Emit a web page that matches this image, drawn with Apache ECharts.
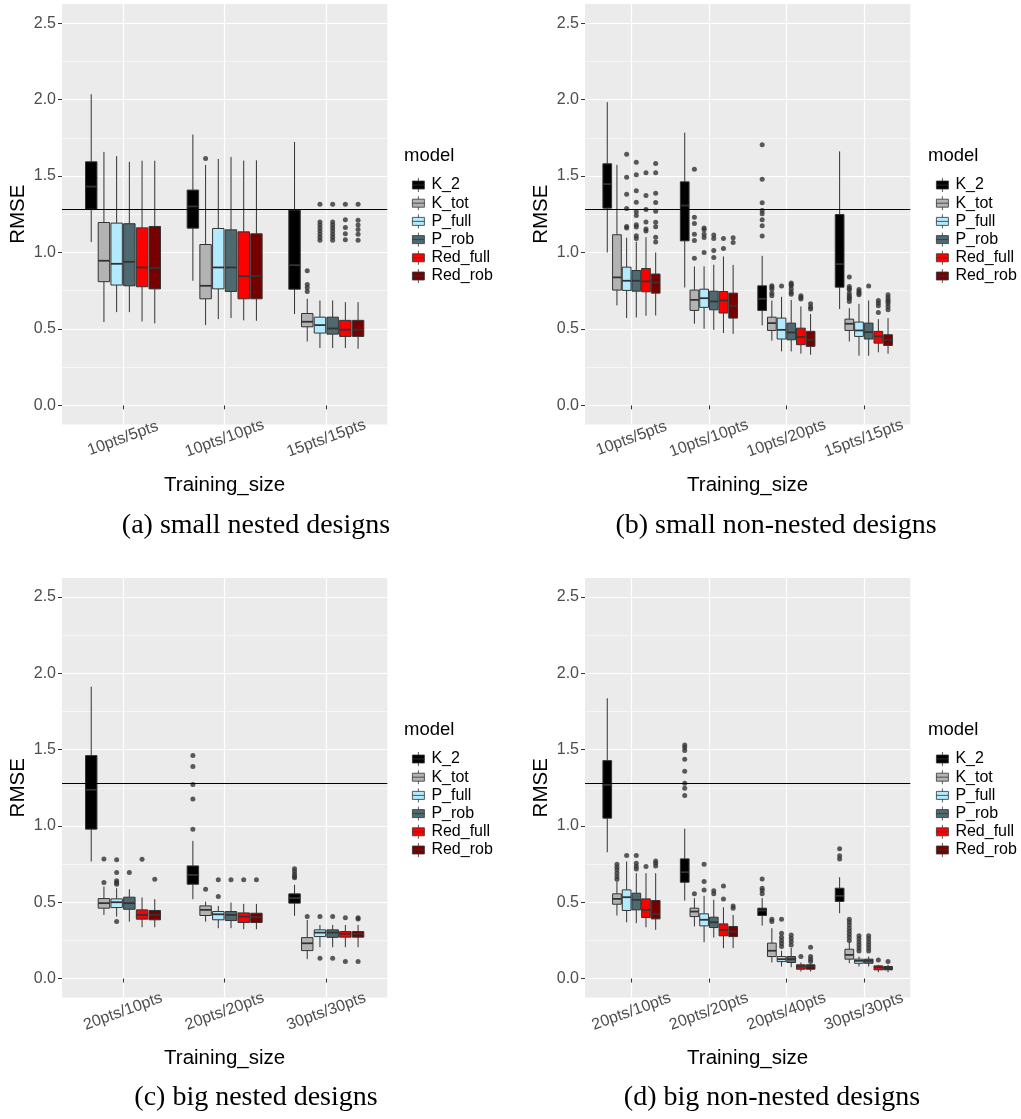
<!DOCTYPE html>
<html><head><meta charset="utf-8">
<script src="https://cdn.jsdelivr.net/npm/echarts@6/dist/echarts.min.js"></script>
<style>html,body{margin:0;padding:0;background:#fff}#c{width:1021px;height:1119px}</style>
</head><body><div id="c"></div>
<script>
// ---------- data ----------
const models = ['K_2', 'K_tot', 'P_full', 'P_rob', 'Red_full', 'Red_rob'];
const modelColors = ['#000000', '#b3b3b3', '#b2ebff', '#4f6970', '#ff0000', '#760000'];
const yTicks = [0, 0.5, 1, 1.5, 2, 2.5];
const yMinorTicks = [0.25, 0.75, 1.25, 1.75, 2.25];
const refLine = 1.285;

// categories
const catsA = ['10pts/5pts', '10pts/10pts', '15pts/15pts'];
const catsB = ['10pts/5pts', '10pts/10pts', '10pts/20pts', '15pts/15pts'];
const catsC = ['20pts/10pts', '20pts/20pts', '30pts/30pts'];
const catsD = ['20pts/10pts', '20pts/20pts', '20pts/40pts', '30pts/30pts'];

// box stats per model (order of models), per category: [lower whisker, Q1, median, Q3, upper whisker]
const boxesA = [
  [[1.068,1.283,1.431,1.593,2.035],[0.815,1.159,1.301,1.408,1.771],[0.597,0.760,0.917,1.277,1.723]],
  [[0.545,0.809,0.946,1.196,1.658],[0.525,0.697,0.782,1.052,1.573],[0.418,0.514,0.547,0.601,0.697]],
  [[0.610,0.787,0.926,1.192,1.630],[0.564,0.762,0.902,1.157,1.612],[0.375,0.473,0.525,0.577,0.686]],
  [[0.610,0.782,0.939,1.188,1.593],[0.571,0.745,0.902,1.148,1.625],[0.375,0.466,0.503,0.577,0.686]],
  [[0.549,0.776,0.902,1.161,1.600],[0.556,0.697,0.845,1.135,1.601],[0.375,0.451,0.495,0.556,0.675]],
  [[0.536,0.762,0.898,1.170,1.600],[0.553,0.697,0.845,1.122,1.603],[0.370,0.451,0.495,0.556,0.675]]
];
const outA = [
  [[],[],[]],
  [[],[1.614],[0.88,0.79,0.77,0.745]],
  [[],[],[1.316,1.20,1.18,1.16,1.14,1.12,1.10,1.08]],
  [[],[],[1.316,1.20,1.18,1.16,1.14,1.12,1.10,1.08]],
  [[],[],[1.316,1.214,1.164,1.123,1.083]],
  [[],[],[1.316,1.21,1.18,1.15,1.12,1.08]]
];

const boxesB = [
  [[1.000,1.290,1.447,1.580,1.983],[0.771,1.076,1.307,1.462,1.784],[0.523,0.621,0.697,0.782,0.978],[0.630,0.773,0.924,1.248,1.661]],
  [[0.654,0.754,0.837,1.116,1.573],[0.534,0.621,0.690,0.754,0.909],[0.423,0.490,0.538,0.577,0.686],[0.418,0.490,0.534,0.564,0.636]],
  [[0.571,0.752,0.815,0.904,1.096],[0.501,0.641,0.701,0.760,0.909],[0.353,0.434,0.494,0.571,0.710],[0.325,0.451,0.490,0.545,0.664]],
  [[0.575,0.747,0.815,0.882,1.070],[0.494,0.625,0.680,0.747,0.920],[0.353,0.429,0.477,0.538,0.690],[0.325,0.434,0.479,0.538,0.686]],
  [[0.586,0.743,0.811,0.895,1.100],[0.473,0.604,0.686,0.745,0.974],[0.338,0.397,0.447,0.505,0.647],[0.347,0.407,0.451,0.484,0.564]],
  [[0.588,0.734,0.804,0.859,1.000],[0.468,0.571,0.651,0.734,0.919],[0.331,0.386,0.429,0.484,0.597],[0.338,0.392,0.429,0.462,0.571]]
];
const outB = [
  [[],[],[1.704,1.479,1.325,1.275,1.253,1.214,1.174,1.107],[]],
  [[],[1.545,1.231,1.19,1.12,1.078,0.963],[0.782,0.773,0.76,0.734,0.717],[0.839,0.778,0.765,0.756,0.732,0.717,0.704,0.697,0.68]],
  [[1.643,1.492,1.381,1.287,1.17,1.16],[1.16,1.148,1.12,1.098,1.0],[0.78],[0.758,0.745,0.734,0.723]],
  [[1.59,1.508,1.403,1.329,1.266,1.242,1.181,1.166,1.109,1.092],[1.115,1.092,1.013,0.967],[0.80,0.79,0.78,0.76,0.74,0.727],[0.78]],
  [[1.521,1.373,1.281,1.2,1.154,1.14],[1.092,1.026],[0.717,0.706,0.695],[0.686,0.669,0.651,0.608]],
  [[1.582,1.521,1.388,1.327,1.27,1.198,1.168,1.1,1.068],[1.096,1.066],[0.664,0.643,0.63],[0.723,0.706,0.69,0.68,0.664,0.645,0.625]]
];

const boxesC = [
  [[0.767,0.979,1.237,1.461,1.913],[0.520,0.618,0.679,0.738,0.902],[0.411,0.494,0.527,0.555,0.614]],
  [[0.417,0.461,0.494,0.524,0.603],[0.373,0.413,0.450,0.476,0.504],[0.127,0.183,0.231,0.268,0.384]],
  [[0.406,0.465,0.500,0.522,0.592],[0.330,0.385,0.421,0.439,0.476],[0.205,0.275,0.301,0.319,0.351]],
  [[0.373,0.454,0.494,0.533,0.585],[0.330,0.380,0.417,0.439,0.498],[0.205,0.270,0.301,0.319,0.351]],
  [[0.336,0.389,0.417,0.450,0.531],[0.323,0.367,0.406,0.430,0.489],[0.205,0.271,0.293,0.308,0.351]],
  [[0.336,0.385,0.417,0.446,0.520],[0.323,0.367,0.402,0.428,0.489],[0.205,0.271,0.293,0.308,0.351]]
];
const outC = [
  [[],[1.461,1.389,1.271,1.177,0.979],[0.719,0.701,0.684,0.668,0.661]],
  [[0.784,0.629],[0.585],[0.406]],
  [[0.778,0.695,0.64,0.629,0.618,0.373],[0.647,0.537],[0.406,0.133]],
  [[0.695],[0.647],[0.406,0.133]],
  [[0.782],[0.647],[0.399,0.111]],
  [[0.651],[0.647],[0.399,0.39,0.111]]
];

const boxesD = [
  [[0.828,1.051,1.269,1.428,1.837],[0.511,0.631,0.697,0.784,0.982],[0.347,0.413,0.446,0.461,0.527],[0.428,0.505,0.542,0.592,0.664]],
  [[0.413,0.487,0.522,0.555,0.636],[0.341,0.406,0.439,0.461,0.527],[0.105,0.144,0.182,0.232,0.330],[0.100,0.127,0.155,0.192,0.242]],
  [[0.369,0.446,0.533,0.581,0.767],[0.238,0.345,0.385,0.424,0.542],[0.079,0.111,0.127,0.144,0.182],[0.079,0.100,0.116,0.127,0.144]],
  [[0.363,0.450,0.516,0.559,0.690],[0.269,0.334,0.369,0.402,0.516],[0.074,0.105,0.127,0.144,0.200],[0.079,0.100,0.116,0.127,0.144]],
  [[0.336,0.400,0.450,0.522,0.690],[0.199,0.280,0.319,0.358,0.467],[0.046,0.061,0.079,0.090,0.105],[0.041,0.057,0.074,0.083,0.090]],
  [[0.319,0.391,0.424,0.511,0.690],[0.199,0.275,0.308,0.341,0.417],[0.046,0.061,0.079,0.090,0.096],[0.041,0.057,0.068,0.079,0.090]]
];
const outD = [
  [[],[1.531,1.514,1.494,1.437,1.358,1.28,1.247,1.199],[0.653,0.592,0.577,0.555],[0.85,0.804,0.784]],
  [[0.749,0.73,0.712,0.69,0.668,0.651],[0.555],[0.389,0.373],[0.389,0.37,0.35,0.33,0.31,0.29,0.27,0.25]],
  [[0.806],[0.749,0.636,0.581],[0.389,0.297,0.27,0.25,0.23,0.21],[0.28,0.26,0.24,0.22,0.2,0.18]],
  [[0.806,0.756,0.734,0.718],[0.575,0.555],[0.286,0.264,0.242,0.22],[0.28,0.26,0.24,0.22,0.2,0.18]],
  [[0.734],[0.607,0.522],[0.144],[0.122]],
  [[0.771,0.756,0.738],[0.476,0.461],[0.205,0.144,0.127,0.111],[0.111]]
];

const captions = ['(a) small nested designs', '(b) small non-nested designs', '(c) big nested designs', '(d) big non-nested designs'];

// ---------- layout ----------
const panels = [
  {cats: catsA, boxes: boxesA, out: outA, left: 62,  top: 4,   height: 420.5, legX: 404, capX: 256, capY: 512},
  {cats: catsB, boxes: boxesB, out: outB, left: 585, top: 4,   height: 420.5, legX: 928, capX: 776, capY: 512},
  {cats: catsC, boxes: boxesC, out: outC, left: 62,  top: 578, height: 419.6, legX: 404, capX: 256, capY: 1084},
  {cats: catsD, boxes: boxesD, out: outD, left: 585, top: 578, height: 419.6, legX: 928, capX: 772, capY: 1084}
];
const SLOT = 0.125;      // dodge slot (0.75 / 6)
const BOXW = SLOT * 0.9; // box width in category units

function makeRender(j, color) {
  return function (params, api) {
    const x = api.value(0) + (j - 2.5) * SLOT;
    const hw = BOXW / 2;
    const lo = api.coord([x, api.value(1)]);
    const q1 = api.coord([x, api.value(2)]);
    const md = api.coord([x, api.value(3)]);
    const q3 = api.coord([x, api.value(4)]);
    const hi = api.coord([x, api.value(5)]);
    const tl = api.coord([x - hw, api.value(4)]);
    const br = api.coord([x + hw, api.value(2)]);
    const stroke = '#333333';
    return {
      type: 'group',
      children: [
        {type: 'line', shape: {x1: lo[0], y1: lo[1], x2: q1[0], y2: q1[1]}, style: {stroke: stroke, lineWidth: 1}},
        {type: 'line', shape: {x1: q3[0], y1: q3[1], x2: hi[0], y2: hi[1]}, style: {stroke: stroke, lineWidth: 1}},
        {type: 'rect', shape: {x: tl[0], y: tl[1], width: br[0] - tl[0], height: br[1] - tl[1]},
          style: {fill: color, stroke: stroke, lineWidth: 1}},
        {type: 'line', shape: {x1: tl[0], y1: md[1], x2: br[0], y2: md[1]}, style: {stroke: stroke, lineWidth: 1.8}}
      ]
    };
  };
}

const FONT = 'Liberation Sans';
const option = {
  animation: false,
  textStyle: {fontFamily: FONT},
  grid: [], xAxis: [], yAxis: [], series: [], legend: [], title: []
};

panels.forEach(function (p, i) {
  const n = p.cats.length;
  const catVals = p.cats.map(function (c, k) { return k + 1; });
  option.grid.push({
    left: p.left, top: p.top, width: 325.3, height: p.height,
    show: true, backgroundColor: '#ebebeb', borderWidth: 0,
    containLabel: false, outerBoundsMode: 'none'
  });
  option.xAxis.push({
    type: 'value', gridIndex: i, min: 0.4, max: n + 0.6,
    axisLine: {show: false},
    axisTick: {show: true, customValues: catVals, length: 4, lineStyle: {color: '#333', width: 1}},
    axisLabel: {
      customValues: catVals,
      formatter: function (v) { return p.cats[Math.round(v) - 1]; },
      rotate: 20, align: 'center', verticalAlign: 'middle', margin: 14,
      fontSize: 16, color: '#4d4d4d', fontFamily: FONT
    },
    splitLine: {show: true, lineStyle: {color: '#ffffff', width: 1.2}},
    name: 'Training_size', nameLocation: 'middle', nameGap: 50,
    nameTextStyle: {fontSize: 20.5, color: '#000', fontFamily: FONT}
  });
  option.yAxis.push({
    type: 'value', gridIndex: i, min: -0.125, max: 2.625,
    axisLine: {show: false},
    axisTick: {show: true, customValues: yTicks, length: 4, lineStyle: {color: '#333', width: 1}},
    axisLabel: {
      customValues: yTicks,
      formatter: function (v) { return v.toFixed(1); },
      margin: 6, fontSize: 16, color: '#4d4d4d', fontFamily: FONT
    },
    splitLine: {show: true, lineStyle: {color: '#ffffff', width: 1.2}},
    name: 'RMSE', nameLocation: 'middle', nameGap: 33,
    nameTextStyle: {fontSize: 20.5, color: '#000', fontFamily: FONT}
  });
  option.yAxis.push({
    type: 'value', gridIndex: i, min: -0.125, max: 2.625, position: 'right',
    axisLine: {show: false},
    axisTick: {show: false, customValues: yMinorTicks},
    axisLabel: {show: false},
    splitLine: {show: true, lineStyle: {color: '#ffffff', width: 0.6}}
  });

  models.forEach(function (m, j) {
    const s = {
      type: 'custom', name: m, xAxisIndex: i, yAxisIndex: 2 * i,
      itemStyle: {color: modelColors[j]},
      encode: {x: 0, y: [1, 2, 3, 4, 5]},
      data: p.boxes[j].map(function (b, k) { return [k + 1].concat(b); }),
      renderItem: makeRender(j, modelColors[j]),
      silent: true, z: 3
    };
    if (j === 0) {
      s.markLine = {
        silent: true, symbol: ['none', 'none'], label: {show: false},
        lineStyle: {color: '#000', width: 1, type: 'solid'},
        data: [{yAxis: refLine}], z: 5
      };
    }
    option.series.push(s);
    const pts = [];
    p.out[j].forEach(function (arr, k) {
      arr.forEach(function (v) { pts.push([k + 1 + (j - 2.5) * SLOT, v]); });
    });
    option.series.push({
      type: 'scatter', name: m + ' outliers', xAxisIndex: i, yAxisIndex: 2 * i,
      symbol: 'circle', symbolSize: 5, itemStyle: {color: '#333333'},
      data: pts, silent: true, z: 4
    });
  });

  const dy = p.top - 4;
  option.legend.push({
    orient: 'vertical', left: p.legX + 3, top: 172 + dy,
    data: models, selectedMode: false,
    icon: 'path://M6,0V3M0,3H12V11H0ZM0,7H12M6,11V14',
    itemWidth: 12, itemHeight: 14, itemGap: 2.2,
    itemStyle: {borderColor: '#333', borderWidth: 0.8},
    textStyle: {fontSize: 16, color: '#000', fontFamily: FONT, padding: [0, 0, 0, 2]}
  });
  option.title.push({
    text: 'model', left: p.legX, top: 146 + dy, padding: 0,
    textStyle: {fontSize: 18.5, fontWeight: 'normal', color: '#000', fontFamily: FONT}
  });
  option.title.push({
    text: captions[i], left: p.capX, top: p.capY, textAlign: 'center', padding: 0,
    textStyle: {fontSize: 28, fontWeight: 'normal', color: '#000', fontFamily: 'Liberation Serif'}
  });
});

const chart = echarts.init(document.getElementById('c'), null, {renderer: 'canvas'});
chart.setOption(option);
</script>
</body></html>
